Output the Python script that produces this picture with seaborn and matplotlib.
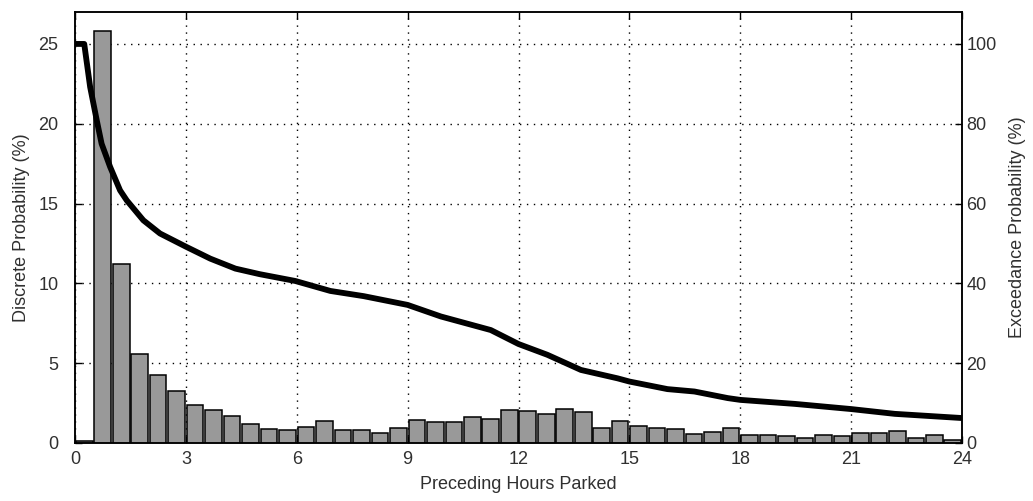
import numpy as np
import pandas as pd
import matplotlib
matplotlib.use("Agg")
import matplotlib.pyplot as plt
import seaborn as sns

# Half-hour bins of preceding parked time (bin centres, hours)
bin_centres = [0.25 + 0.5 * i for i in range(48)]

# Discrete probability per half-hour bin (%)
discrete_prob = [
    0.15, 25.8, 11.19, 5.6, 4.24, 3.26, 2.38, 2.07, 1.69, 1.19,
    0.9, 0.79, 1.02, 1.38, 0.82, 0.83, 0.64, 0.93, 1.43, 1.33,
    1.33, 1.62, 1.52, 2.04, 2.02, 1.83, 2.1, 1.91, 0.93, 1.36,
    1.06, 0.96, 0.87, 0.57, 0.68, 0.97, 0.52, 0.52, 0.42, 0.31,
    0.52, 0.42, 0.63, 0.63, 0.73, 0.31, 0.52, 0.21,
]

# Exceedance probability curve (%)
exceed_hours = [
    0.0, 0.25, 0.41, 0.59, 0.72, 0.95, 1.22, 1.4, 1.85, 2.3, 3.0,
    3.66, 4.34, 5.0, 5.96, 6.91, 7.81, 9.0, 9.9, 11.25, 12.0, 12.78,
    13.69, 14.68, 15.0, 16.03, 16.76, 17.66, 18.0, 19.47, 21.0, 22.18, 24.0,
]
exceed_prob = [
    100, 100, 89.2, 80.8, 75.0, 69.2, 63.3, 60.8, 55.8, 52.5, 49.2,
    46.2, 43.7, 42.3, 40.6, 38.1, 36.8, 34.6, 31.7, 28.3, 24.8, 22.1,
    18.3, 16.2, 15.4, 13.5, 12.9, 11.25, 10.8, 9.8, 8.5, 7.3, 6.25,
]

x_ticks = [0, 3, 6, 9, 12, 15, 18, 21, 24]
left_ticks = [0, 5, 10, 15, 20, 25]
right_ticks = [0, 20, 40, 60, 80, 100]

sns.set_style("white")
plt.rcParams["font.family"] = ["Liberation Sans", "DejaVu Sans"]
text_color = "#303030"

fig = plt.figure(figsize=(10.33, 5.01), dpi=100)
ax = fig.add_axes([0.0726, 0.1158, 0.8587, 0.8602])

bars = pd.DataFrame({"hours": bin_centres, "prob": discrete_prob})
sns.barplot(data=bars, x="hours", y="prob", native_scale=True, width=0.9,
            color="#999999", saturation=1, edgecolor="black", linewidth=1.1,
            ax=ax, zorder=3)

ax.set_xlim(0, 24)
ax.set_ylim(0, 27)
ax.set_xticks(x_ticks)
ax.set_xticklabels([str(t) for t in x_ticks])
ax.set_yticks(left_ticks)
ax.set_yticklabels([str(t) for t in left_ticks])
ax.grid(True, color="black", linestyle=(0, (1, 4)), linewidth=1.0)
ax.set_axisbelow(True)
ax.tick_params(direction="in", length=5, width=1, color="black",
               labelsize=13, labelcolor=text_color, top=True, bottom=True,
               left=True, right=False)
ax.tick_params(axis="y", pad=12)
ax.tick_params(axis="x", pad=5.5)
ax.set_xlabel("Preceding Hours Parked", fontsize=13, color=text_color, labelpad=6)
ax.set_ylabel("Discrete Probability (%)", fontsize=13, color=text_color, labelpad=6)
for s in ax.spines.values():
    s.set_color("black")
    s.set_linewidth(1.1)

ax2 = ax.twinx()
curve = pd.DataFrame({"hours": exceed_hours, "exceed": exceed_prob})
sns.lineplot(data=curve, x="hours", y="exceed", color="black", linewidth=4.2,
             ax=ax2, zorder=5)
ax2.set_ylim(0, 108)
ax2.set_xlim(0, 24)
ax2.set_yticks(right_ticks)
ax2.set_yticklabels([str(t) for t in right_ticks])
ax2.tick_params(direction="in", length=5, width=1, color="black",
                labelsize=13, labelcolor=text_color, right=True, left=False, pad=3)
ax2.set_xlabel("")
ax2.set_ylabel("Exceedance Probability (%)", fontsize=13, color=text_color, labelpad=9)
ax2.grid(False)
for s in ax2.spines.values():
    s.set_color("black")
    s.set_linewidth(1.1)

fig.savefig("out.png", dpi=100)
